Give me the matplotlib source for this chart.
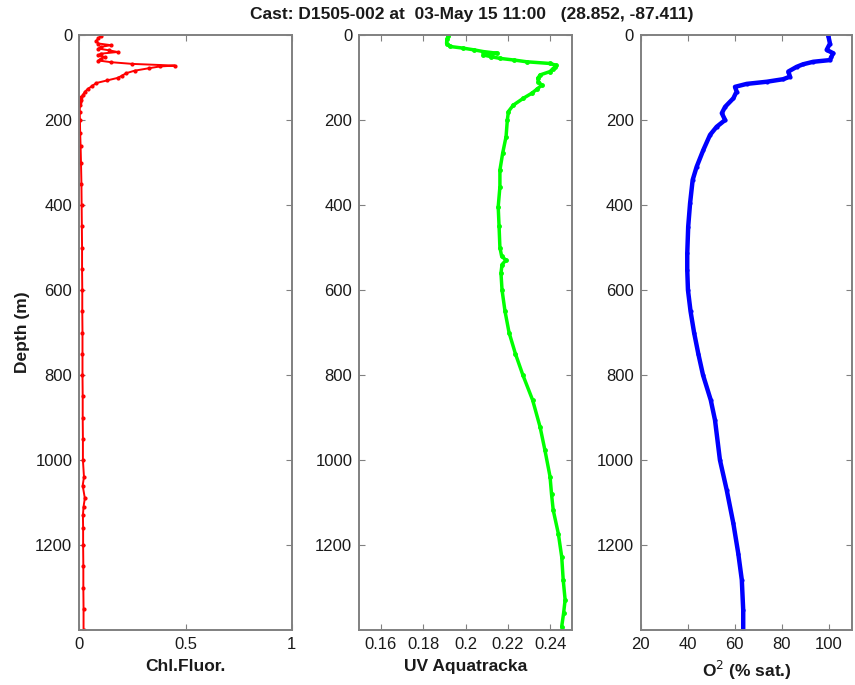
import matplotlib
matplotlib.use("Agg")
import matplotlib.pyplot as plt

plt.rcParams['font.family'] = ['Liberation Sans', 'DejaVu Sans']

# ---- data ----
chl_depth = [2, 8, 14, 20, 24, 28, 32, 36, 40, 44, 48, 52, 56, 60, 64, 68, 72, 74,
             78, 84, 90, 96, 101, 107, 113, 120, 127, 133, 140, 147, 152, 157, 165,
             180, 200, 230, 260, 300, 350, 400, 450, 500, 550, 600, 650, 700, 750, 800,
             850, 900, 950, 1000, 1040, 1060, 1090, 1110, 1130, 1160, 1200, 1250, 1300,
             1350, 1400]
chl_val = [0.10, 0.09, 0.08, 0.09, 0.15, 0.10, 0.09, 0.14, 0.18, 0.10, 0.09, 0.12,
           0.10, 0.09, 0.15, 0.25, 0.45, 0.38, 0.33, 0.26, 0.22, 0.20, 0.18, 0.13,
           0.08, 0.06, 0.04, 0.027, 0.018, 0.010, 0.006, 0.003, 0.003, 0.002, 0.003,
           0.004, 0.006, 0.008, 0.010, 0.011, 0.012, 0.013, 0.013, 0.014, 0.014,
           0.015, 0.015, 0.015, 0.016, 0.016, 0.017, 0.017, 0.022, 0.016, 0.026,
           0.020, 0.017, 0.018, 0.018, 0.019, 0.019, 0.020, 0.020]

uv_depth = [2, 10, 20, 27, 31, 35, 39, 43, 47, 51, 55, 59, 63, 67, 71, 75, 80, 86,
            94, 102, 110, 118, 128, 137, 149, 165, 180, 200, 239, 278, 318, 357, 404,
            450, 500, 520, 530, 540, 560, 600, 650, 700, 750, 800, 859, 922, 977,
            1039, 1080, 1118, 1173, 1228, 1282, 1329, 1360, 1392]
uv_val = [0.1919, 0.1912, 0.1911, 0.1927, 0.1990, 0.2040, 0.2084, 0.2150, 0.2084,
          0.2120, 0.2162, 0.2230, 0.2288, 0.2398, 0.2425, 0.2421, 0.2410, 0.2398,
          0.2351, 0.2340, 0.2343, 0.2359, 0.2335, 0.2312, 0.2272, 0.2225, 0.2202,
          0.2197, 0.2191, 0.2175, 0.2162, 0.2162, 0.2154, 0.2158, 0.2162, 0.2170,
          0.2190, 0.2172, 0.2167, 0.2172, 0.2186, 0.2205, 0.2235, 0.2270, 0.2316,
          0.2351, 0.2374, 0.2398, 0.2405, 0.2413, 0.2437, 0.2453, 0.2460, 0.2469,
          0.2462, 0.2453]

o2_depth = [2, 20, 35, 43, 52, 59, 63, 69, 75, 86, 98, 104, 110, 115, 122, 133, 149,
            169, 184, 200, 216, 235, 271, 310, 341, 396, 451, 514, 553, 600, 650,
            700, 750, 800, 859, 906, 1000, 1071, 1149, 1220, 1282, 1353, 1400]
o2_val = [99.8, 100.5, 99.1, 101.9, 101.0, 100.5, 93.4, 89.0, 86.3, 82.8, 83.5,
          80.6, 73.6, 65.1, 60.1, 60.8, 59.4, 55.9, 54.5, 55.9, 52.3, 49.5, 46.6,
          43.8, 42.1, 41.0, 40.2, 39.8, 39.8, 40.1, 41.2, 42.7, 44.5, 46.5, 49.8,
          51.6, 53.7, 56.6, 59.4, 61.5, 63.0, 63.6, 63.6]

panels = [
    dict(x=chl_val, y=chl_depth, color='#ff0000', xlim=(0, 1), xticks=[0, 0.5, 1],
         xticklabels=['0', '0.5', '1'], xlabel='Chl.Fluor.', left=79.3, right=291.7,
         lw=1.4, ms=4),
    dict(x=uv_val, y=uv_depth, color='#00ff00', xlim=(0.15, 0.25),
         xticks=[0.16, 0.18, 0.2, 0.22, 0.24],
         xticklabels=['0.16', '0.18', '0.2', '0.22', '0.24'], xlabel='UV Aquatracka',
         left=359.3, right=571.7, lw=2.5, ms=5),
    dict(x=o2_val, y=o2_depth, color='#0000ff', xlim=(20, 110),
         xticks=[20, 40, 60, 80, 100],
         xticklabels=['20', '40', '60', '80', '100'], xlabel=r'O$^2$ (% sat.)',
         left=640.7, right=852.3, lw=3.2, ms=4),
]

W, H = 855, 685
fig = plt.figure(figsize=(W / 100, H / 100), dpi=100)
top_px, bot_px = 35, 630
frame_col = '#808080'
text_col = '#1a1a1a'

for i, p in enumerate(panels):
    ax = fig.add_axes([p['left'] / W, 1 - bot_px / H, (p['right'] - p['left']) / W,
                       (bot_px - top_px) / H])
    ax.plot(p['x'], p['y'], '-', color=p['color'], lw=p['lw'], marker='.',
            ms=p['ms'], solid_capstyle='round')
    ax.set_xlim(*p['xlim'])
    ax.set_ylim(1400, 0)
    ax.set_xticks(p['xticks'])
    ax.set_xticklabels(p['xticklabels'])
    ax.set_yticks([0, 200, 400, 600, 800, 1000, 1200])
    ax.tick_params(direction='in', length=4, width=0.8, top=True, right=True,
                   colors=frame_col, labelcolor=text_col, labelsize=12, pad=5)
    for s in ax.spines.values():
        s.set_color(frame_col)
        s.set_linewidth(1.4)
    ax.set_xlabel(p['xlabel'], fontsize=12.5, fontweight='bold', color=text_col,
                  labelpad=5)
    if i == 0:
        ax.set_ylabel('Depth (m)', fontsize=12.5, fontweight='bold', color=text_col,
                      labelpad=4)

fig.text(472 / W, 1 - 15 / H,
         'Cast: D1505-002 at  03-May 15 11:00   (28.852, -87.411)',
         ha='center', va='center', fontsize=12.5, fontweight='bold', color=text_col)

fig.savefig('out.png', dpi=100, facecolor='white')
